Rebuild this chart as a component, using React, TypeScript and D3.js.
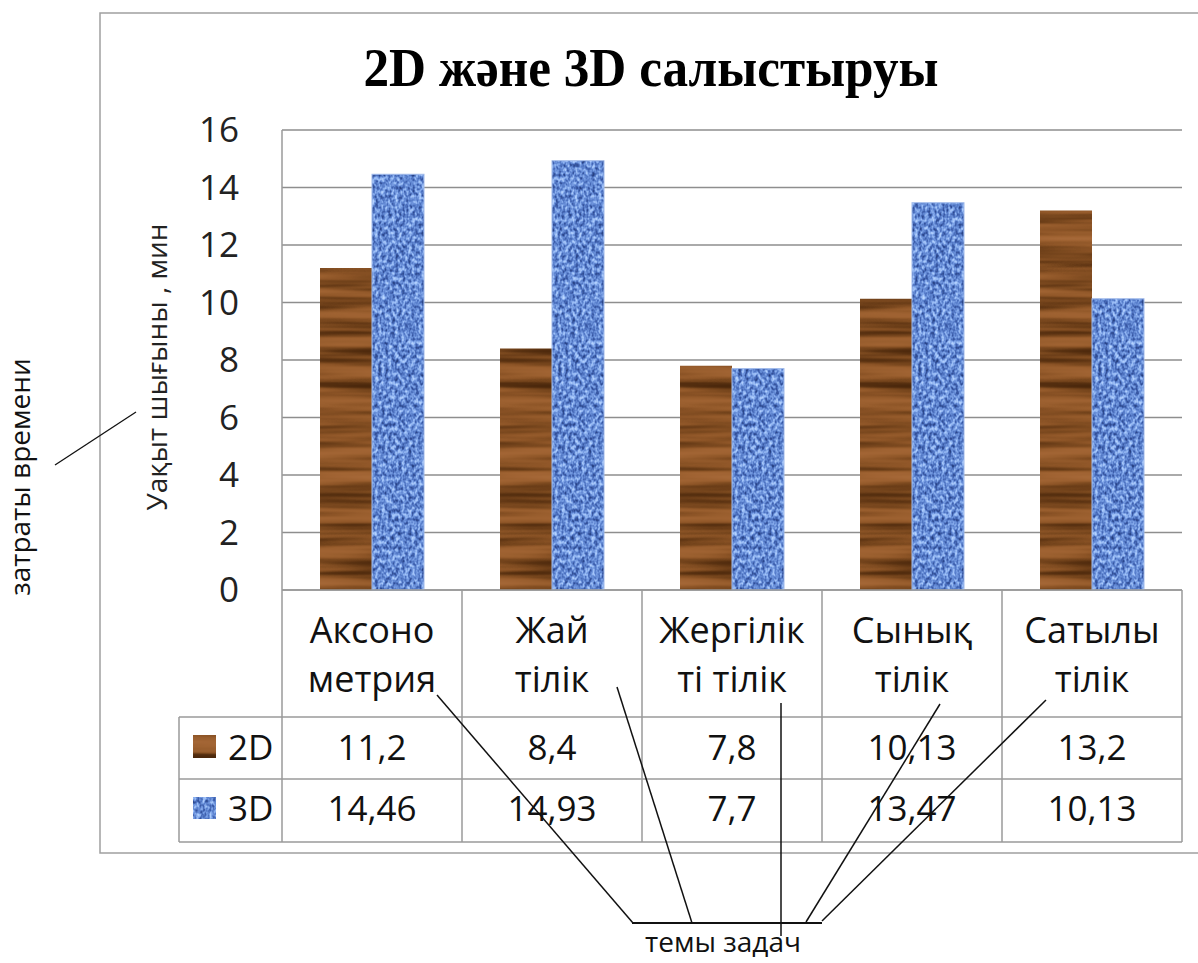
import React from "react";
import * as d3 from "d3";

const categories: string[][] = [
  ["Аксоно", "метрия"],
  ["Жай", "тілік"],
  ["Жергілік", "ті тілік"],
  ["Сынық", "тілік"],
  ["Сатылы", "тілік"],
];
const seriesNames = ["2D", "3D"];
const values2D = [11.2, 8.4, 7.8, 10.13, 13.2];
const values3D = [14.46, 14.93, 7.7, 13.47, 10.13];
const labels2D = ["11,2", "8,4", "7,8", "10,13", "13,2"];
const labels3D = ["14,46", "14,93", "7,7", "13,47", "10,13"];
const yTicks = [0, 2, 4, 6, 8, 10, 12, 14, 16];

const title = "2D және 3D салыстыруы";
const yTitle = "Уақыт шығыны , мин";
const noteLeft = "затраты времени";
const noteBottom = "темы задач";

// callout lines: [x1,y1,x2,y2]
const leftCallout = [55, 465, 136, 412];
const bottomCallouts = [
  [437, 695, 633, 923],
  [617, 687, 692, 923],
  [781, 703, 781, 936],
  [940, 704, 806, 922],
  [1046, 700, 822, 921],
];
const bottomBar = [632, 923, 822, 923];

const W = 1198;
const H = 963;
const plotL = 282;
const plotR = 1182;
const plotT = 130;
const plotB = 590;
const rowCatB = 717;
const row2DB = 779;
const row3DB = 842;
const legendL = 179;

const font = "'Open Sans', 'Noto Sans', sans-serif";
const gridColor = "#8e8e8e";
const tableColor = "#9a9a9a";

export default function App() {
  const keys = categories.map((c) => c.join(" "));
  const x0 = d3.scaleBand<string>().domain(keys).range([plotL, plotR]).padding(0);
  const bw = x0.bandwidth();
  const groupPad = 38;
  const x1 = d3
    .scaleBand<string>()
    .domain(seriesNames)
    .range([groupPad, bw - groupPad])
    .padding(0);
  const y = d3.scaleLinear().domain([0, 16]).range([plotB, plotT]);
  const series = [values2D, values3D];
  const fills = ["url(#woodPat)", "url(#burlapPat)"];

  return (
    <svg
      width={W}
      height={H}
      viewBox={`0 0 ${W} ${H}`}
      style={{ position: "absolute", left: 0, top: 0, display: "block", background: "#fff" }}
    >
      <defs>
        <filter
          id="woodF"
          x="0"
          y="0"
          width={W}
          height={H}
          filterUnits="userSpaceOnUse"
          colorInterpolationFilters="sRGB"
        >
          <feTurbulence type="fractalNoise" baseFrequency="0.004 0.08" numOctaves={3} seed={11} result="n" />
          <feColorMatrix
            in="n"
            type="matrix"
            values="1 0 0 0 0  1 0 0 0 0  1 0 0 0 0  0 0 0 0 1"
            result="g"
          />
          <feComponentTransfer in="g">
            <feFuncR type="table" tableValues="0.28 0.28 0.30 0.36 0.46 0.55 0.60 0.63 0.65 0.65 0.65" />
            <feFuncG type="table" tableValues="0.15 0.15 0.16 0.20 0.27 0.33 0.37 0.39 0.41 0.41 0.41" />
            <feFuncB type="table" tableValues="0.04 0.04 0.05 0.07 0.11 0.15 0.18 0.20 0.22 0.22 0.22" />
          </feComponentTransfer>
        </filter>
        <filter
          id="burlapF"
          x="0"
          y="0"
          width={W}
          height={H}
          filterUnits="userSpaceOnUse"
          colorInterpolationFilters="sRGB"
        >
          <feTurbulence type="fractalNoise" baseFrequency="0.3 0.22" numOctaves={2} seed={5} result="n" />
          <feColorMatrix
            in="n"
            type="matrix"
            values="1 0 0 0 0  1 0 0 0 0  1 0 0 0 0  0 0 0 0 1"
            result="g"
          />
          <feComponentTransfer in="g">
            <feFuncR type="table" tableValues="0.14 0.14 0.18 0.25 0.34 0.45 0.58 0.68 0.74 0.74" />
            <feFuncG type="table" tableValues="0.24 0.24 0.29 0.38 0.49 0.60 0.72 0.80 0.85 0.85" />
            <feFuncB type="table" tableValues="0.48 0.48 0.56 0.68 0.79 0.88 0.95 0.99 1.0 1.0" />
          </feComponentTransfer>
        </filter>
        <pattern id="woodPat" patternUnits="userSpaceOnUse" x="0" y="0" width={W} height={H}>
          <rect x="0" y="0" width={W} height={H} fill="#8b5a2b" filter="url(#woodF)" />
        </pattern>
        <pattern id="burlapPat" patternUnits="userSpaceOnUse" x="0" y="0" width={W} height={H}>
          <rect x="0" y="0" width={W} height={H} fill="#6a8fd6" filter="url(#burlapF)" />
        </pattern>
      </defs>

      <rect x={0} y={0} width={W} height={H} fill="#fff" />

      {/* outer frame */}
      <path d={`M${W},13 H100 V853 H${W}`} fill="none" stroke="#a0a0a0" strokeWidth={1.5} />

      {/* title */}
      <text
        x={651}
        y={86}
        textAnchor="middle"
        fontFamily="'Liberation Serif', 'DejaVu Serif', serif"
        fontWeight="bold"
        fontSize={54}
        fill="#000"
        textLength={575}
        lengthAdjust="spacingAndGlyphs"
      >
        {title}
      </text>

      {/* gridlines */}
      {yTicks.map((t) => (
        <line key={"g" + t} x1={plotL} x2={plotR} y1={y(t)} y2={y(t)} stroke={gridColor} strokeWidth={1.5} />
      ))}

      {/* y tick labels */}
      {yTicks.map((t) => (
        <text
          key={"t" + t}
          x={239}
          y={y(t)}
          dy="0.35em"
          textAnchor="end"
          fontFamily={font}
          fontSize={35}
          fill="#222"
        >
          {t}
        </text>
      ))}

      {/* y title */}
      <text
        transform={`translate(167,${367}) rotate(-90)`}
        textAnchor="middle"
        fontFamily={font}
        fontSize={28}
        fill="#222"
      >
        {yTitle}
      </text>

      {/* bars */}
      {keys.map((k, i) => (
        <g key={"bars" + k} transform={`translate(${x0(k)},0)`}>
          {seriesNames.map((s, j) => {
            const v = series[j][i];
            return (
              <rect
                key={s}
                x={x1(s)}
                y={y(v)}
                width={x1.bandwidth()}
                height={y(0) - y(v)}
                fill={fills[j]}
                stroke={j === 1 ? "#9fb9ea" : "none"}
                strokeWidth={j === 1 ? 1 : 0}
              />
            );
          })}
        </g>
      ))}

      {/* axis line / plot left */}
      <line x1={plotL} x2={plotL} y1={plotT} y2={row3DB} stroke={tableColor} strokeWidth={1.5} />
      <line x1={plotL} x2={plotR} y1={plotB} y2={plotB} stroke={tableColor} strokeWidth={1.5} />

      {/* data table grid */}
      {[rowCatB, row2DB, row3DB].map((yy) => (
        <line key={"h" + yy} x1={legendL} x2={plotR} y1={yy} y2={yy} stroke={tableColor} strokeWidth={1.5} />
      ))}
      <line x1={legendL} x2={legendL} y1={rowCatB} y2={row3DB} stroke={tableColor} strokeWidth={1.5} />
      {keys.map((k) => (
        <line
          key={"v" + k}
          x1={(x0(k) as number) + bw}
          x2={(x0(k) as number) + bw}
          y1={plotB}
          y2={row3DB}
          stroke={tableColor}
          strokeWidth={1.5}
        />
      ))}

      {/* category labels */}
      {categories.map((c, i) => (
        <text
          key={"c" + i}
          x={(x0(keys[i]) as number) + bw / 2}
          textAnchor="middle"
          fontFamily={font}
          fontSize={36}
          fill="#111"
        >
          <tspan x={(x0(keys[i]) as number) + bw / 2} y={643}>
            {c[0]}
          </tspan>
          <tspan x={(x0(keys[i]) as number) + bw / 2} y={692}>
            {c[1]}
          </tspan>
        </text>
      ))}

      {/* legend cells */}
      <rect x={193} y={735} width={23} height={23} fill="url(#woodPat)" />
      <rect x={193} y={797} width={23} height={22} fill="url(#burlapPat)" />
      <text x={228} y={760} fontFamily={font} fontSize={35} fill="#111">
        {seriesNames[0]}
      </text>
      <text x={228} y={821} fontFamily={font} fontSize={35} fill="#111">
        {seriesNames[1]}
      </text>

      {/* values */}
      {keys.map((k, i) => (
        <g key={"vals" + k}>
          <text
            x={(x0(k) as number) + bw / 2}
            y={760}
            textAnchor="middle"
            fontFamily={font}
            fontSize={35}
            fill="#111"
          >
            {labels2D[i]}
          </text>
          <text
            x={(x0(k) as number) + bw / 2}
            y={821}
            textAnchor="middle"
            fontFamily={font}
            fontSize={35}
            fill="#111"
          >
            {labels3D[i]}
          </text>
        </g>
      ))}

      {/* annotations */}
      <line
        x1={leftCallout[0]}
        y1={leftCallout[1]}
        x2={leftCallout[2]}
        y2={leftCallout[3]}
        stroke="#111"
        strokeWidth={1.3}
      />
      <text
        transform={`translate(30,${477}) rotate(-90)`}
        textAnchor="middle"
        fontFamily={font}
        fontSize={28}
        fill="#111"
      >
        {noteLeft}
      </text>
      {bottomCallouts.map((l, i) => (
        <line key={"bc" + i} x1={l[0]} y1={l[1]} x2={l[2]} y2={l[3]} stroke="#111" strokeWidth={1.5} />
      ))}
      <line x1={bottomBar[0]} y1={bottomBar[1]} x2={bottomBar[2]} y2={bottomBar[3]} stroke="#111" strokeWidth={2} />
      <text x={723} y={952} textAnchor="middle" fontFamily={font} fontSize={28} fill="#111">
        {noteBottom}
      </text>
    </svg>
  );
}
